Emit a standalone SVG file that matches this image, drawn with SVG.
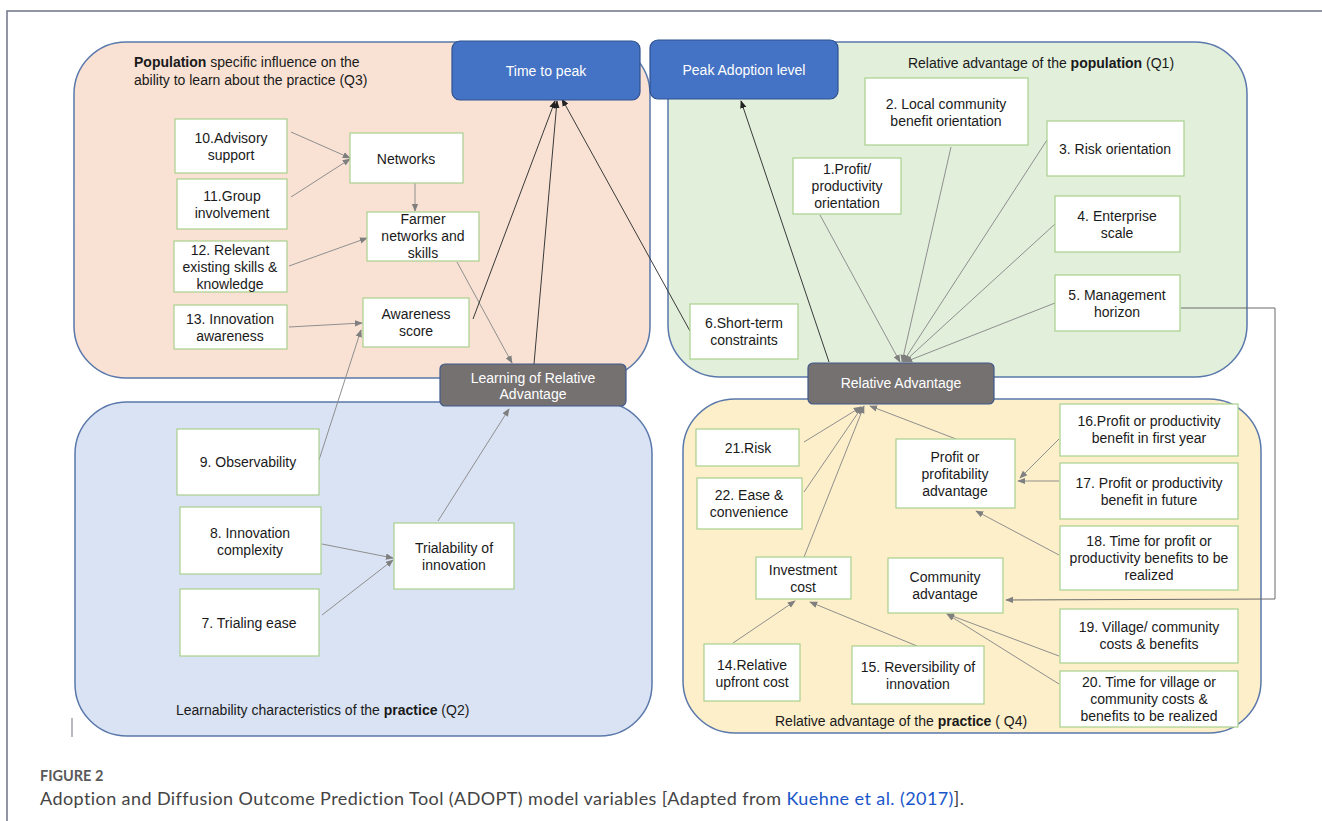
<svg xmlns="http://www.w3.org/2000/svg" width="1322" height="821" viewBox="0 0 1322 821">
<defs>
<style>
.q{stroke:#5a78ab;stroke-width:1.5}
.n{fill:#ffffff;stroke:#a9d08e;stroke-width:1.2}
.t{font-family:"Liberation Sans",Arial,sans-serif;font-size:14px;fill:#1a1a1a;text-anchor:middle}
.lbl{font-family:"Liberation Sans",Arial,sans-serif;font-size:14px;fill:#1a1a1a}
.blue{fill:#4472c4;stroke:#2f528f;stroke-width:1.2}
.gray{fill:#757171;stroke:#41598b;stroke-width:1.2}
.wt{font-family:"Liberation Sans",Arial,sans-serif;font-size:14px;fill:#ffffff;text-anchor:middle}
.c{fill:none;stroke:#8f8f8f;stroke-width:1;marker-end:url(#ag)}
.cd{fill:none;stroke:#3a3a3a;stroke-width:1;marker-end:url(#ad)}
.cap{font-family:Lato,"Open Sans",sans-serif;font-variant-ligatures:none}
</style>
<marker id="ag" viewBox="0 0 10 10" refX="9" refY="5" markerWidth="8" markerHeight="8" markerUnits="userSpaceOnUse" orient="auto">
<path d="M0,1 L10,5 L0,9 z" fill="#7f7f7f"/>
</marker>
<marker id="ad" viewBox="0 0 10 10" refX="9" refY="5" markerWidth="8" markerHeight="8" markerUnits="userSpaceOnUse" orient="auto">
<path d="M0,1 L10,5 L0,9 z" fill="#222"/>
</marker>
</defs>
<rect width="1322" height="821" fill="#ffffff"/>
<!-- frame -->
<path d="M7,821 V11 H1322" fill="none" stroke="#6e7387" stroke-width="1.5"/>
<line x1="72" y1="718" x2="72" y2="737" stroke="#6e7387" stroke-width="1"/>

<!-- quadrants -->
<g id="q3"><rect class="q" x="74" y="42" width="576" height="336" rx="52" fill="#f9e2d4"/></g>
<g id="q1"><rect class="q" x="668" y="42" width="579" height="335" rx="52" fill="#e2efda"/></g>
<g id="q2"><rect class="q" x="75" y="402" width="577" height="334" rx="52" fill="#dae3f3"/></g>
<g id="q4"><rect class="q" x="683" y="399" width="578" height="334" rx="52" fill="#fcefc9"/></g>

<text class="lbl" x="134" y="67"><tspan font-weight="bold">Population</tspan> specific influence on the</text>
<text class="lbl" x="134" y="85">ability to learn about the practice (Q3)</text>
<text class="lbl" x="1041" y="68" text-anchor="middle">Relative advantage of the <tspan font-weight="bold">population</tspan> (Q1)</text>
<text class="lbl" x="176" y="715">Learnability characteristics of the <tspan font-weight="bold">practice</tspan> (Q2)</text>
<text class="lbl" x="775" y="726">Relative advantage of the <tspan font-weight="bold">practice</tspan> ( Q4)</text>

<!-- connectors -->
<g id="connectors">
<line class="c" x1="291" y1="132" x2="350" y2="158"/>
<line class="c" x1="291" y1="197" x2="350" y2="159"/>
<line class="c" x1="415" y1="183" x2="415" y2="211"/>
<line class="c" x1="289" y1="266" x2="367" y2="238"/>
<line class="c" x1="289" y1="327" x2="362" y2="323"/>
<line class="c" x1="319" y1="460" x2="361" y2="330"/>
<line class="c" x1="457" y1="262" x2="512" y2="363"/>
<line class="cd" x1="473" y1="319" x2="555" y2="101"/>
<line class="cd" x1="534" y1="364" x2="557" y2="101"/>
<line class="cd" x1="690" y1="331" x2="562" y2="99"/>
<line class="c" x1="438" y1="521" x2="509" y2="409"/>
<line class="c" x1="322" y1="544" x2="393" y2="558"/>
<line class="c" x1="322" y1="615" x2="393" y2="560"/>
<line class="c" x1="820" y1="215" x2="900" y2="362"/>
<line class="c" x1="951" y1="147" x2="902" y2="362"/>
<line class="c" x1="1047" y1="140" x2="903" y2="362"/>
<line class="c" x1="1055" y1="224" x2="904" y2="362"/>
<line class="c" x1="1055" y1="303" x2="905" y2="362"/>
<line class="cd" x1="829" y1="362" x2="741" y2="101"/>
<polyline class="c" style="stroke:#6a6a6a" points="1181,308 1275,308 1275,599 1006,600"/>
<line class="c" x1="804" y1="442" x2="861" y2="407"/>
<line class="c" x1="804" y1="492" x2="862" y2="407"/>
<line class="c" x1="804" y1="557" x2="864" y2="406"/>
<line class="c" x1="956" y1="439" x2="870" y2="406"/>
<line class="c" x1="733" y1="643" x2="795" y2="601"/>
<line class="c" x1="917" y1="646" x2="810" y2="602"/>
<line class="c" x1="1059" y1="439" x2="1020" y2="478"/>
<line class="c" x1="1059" y1="481" x2="1018" y2="481"/>
<line class="c" x1="1059" y1="555" x2="976" y2="511"/>
<line class="c" x1="1059" y1="656" x2="947" y2="614"/>
<line class="c" x1="1059" y1="684" x2="947" y2="614"/>
</g>

<!-- top outcome boxes -->
<g id="time-to-peak"><rect class="blue" x="452" y="41" width="188" height="59" rx="8"/><text class="wt" x="546" y="76">Time to peak</text></g>
<g id="peak-adoption"><rect class="blue" x="650" y="40" width="188" height="59" rx="8"/><text class="wt" x="744" y="75">Peak Adoption level</text></g>
<g id="learning-ra"><rect class="gray" x="440" y="364" width="186" height="42" rx="5"/><text class="wt" x="533" y="383">Learning of Relative</text><text class="wt" x="533" y="399">Advantage</text></g>
<g id="relative-advantage"><rect class="gray" x="808" y="363" width="186" height="41" rx="5"/><text class="wt" x="901" y="388">Relative Advantage</text></g>

<!-- Q3 nodes -->
<g id="n10"><rect class="n" x="175" y="119" width="112" height="54"/><text class="t" x="231" y="143">10.Advisory</text><text class="t" x="231" y="160">support</text></g>
<g id="n11"><rect class="n" x="177" y="179" width="110" height="50"/><text class="t" x="232" y="201">11.Group</text><text class="t" x="232" y="218">involvement</text></g>
<g id="n12"><rect class="n" x="174" y="241" width="113" height="51"/><text class="t" x="230" y="255">12. Relevant</text><text class="t" x="230" y="272">existing skills &amp;</text><text class="t" x="230" y="289">knowledge</text></g>
<g id="n13"><rect class="n" x="174" y="305" width="113" height="44"/><text class="t" x="230" y="324">13. Innovation</text><text class="t" x="230" y="341">awareness</text></g>
<g id="networks"><rect class="n" x="350" y="133" width="113" height="50"/><text class="t" x="406" y="164">Networks</text></g>
<g id="farmer"><rect class="n" x="367" y="212" width="112" height="49"/><text class="t" x="423" y="224">Farmer</text><text class="t" x="423" y="241">networks and</text><text class="t" x="423" y="258">skills</text></g>
<g id="awareness"><rect class="n" x="363" y="298" width="106" height="49"/><text class="t" x="416" y="319">Awareness</text><text class="t" x="416" y="336">score</text></g>

<!-- Q1 nodes -->
<g id="n2"><rect class="n" x="865" y="78" width="163" height="67"/><text class="t" x="946" y="109">2. Local community</text><text class="t" x="946" y="126">benefit orientation</text></g>
<g id="n1"><rect class="n" x="793" y="158" width="108" height="56"/><text class="t" x="847" y="174">1.Profit/</text><text class="t" x="847" y="191">productivity</text><text class="t" x="847" y="208">orientation</text></g>
<g id="n3"><rect class="n" x="1047" y="121" width="137" height="55"/><text class="t" x="1115" y="154">3. Risk orientation</text></g>
<g id="n4"><rect class="n" x="1055" y="196" width="125" height="56"/><text class="t" x="1117" y="221">4. Enterprise</text><text class="t" x="1117" y="238">scale</text></g>
<g id="n5"><rect class="n" x="1055" y="275" width="125" height="56"/><text class="t" x="1117" y="300">5. Management</text><text class="t" x="1117" y="317">horizon</text></g>
<g id="n6"><rect class="n" x="690" y="304" width="108" height="55"/><text class="t" x="744" y="328">6.Short-term</text><text class="t" x="744" y="345">constraints</text></g>

<!-- Q2 nodes -->
<g id="n9"><rect class="n" x="177" y="429" width="142" height="66"/><text class="t" x="248" y="467">9. Observability</text></g>
<g id="n8"><rect class="n" x="180" y="507" width="141" height="67"/><text class="t" x="250" y="538">8. Innovation</text><text class="t" x="250" y="555">complexity</text></g>
<g id="n7"><rect class="n" x="180" y="589" width="139" height="67"/><text class="t" x="249" y="628">7. Trialing ease</text></g>
<g id="trialability"><rect class="n" x="394" y="523" width="120" height="66"/><text class="t" x="454" y="553">Trialability of</text><text class="t" x="454" y="570">innovation</text></g>

<!-- Q4 nodes -->
<g id="n21"><rect class="n" x="696" y="429" width="103" height="37"/><text class="t" x="748" y="453">21.Risk</text></g>
<g id="n22"><rect class="n" x="697" y="478" width="105" height="51"/><text class="t" x="749" y="500">22. Ease &amp;</text><text class="t" x="749" y="517">convenience</text></g>
<g id="investment"><rect class="n" x="756" y="557" width="95" height="42"/><text class="t" x="803" y="575">Investment</text><text class="t" x="803" y="592">cost</text></g>
<g id="profit"><rect class="n" x="896" y="439" width="119" height="69"/><text class="t" x="955" y="462">Profit or</text><text class="t" x="955" y="479">profitability</text><text class="t" x="955" y="496">advantage</text></g>
<g id="community"><rect class="n" x="888" y="558" width="115" height="55"/><text class="t" x="945" y="582">Community</text><text class="t" x="945" y="599">advantage</text></g>
<g id="n14"><rect class="n" x="704" y="644" width="96" height="57"/><text class="t" x="752" y="670">14.Relative</text><text class="t" x="752" y="687">upfront cost</text></g>
<g id="n15"><rect class="n" x="852" y="646" width="132" height="58"/><text class="t" x="918" y="672">15. Reversibility of</text><text class="t" x="918" y="689">innovation</text></g>
<g id="n16"><rect class="n" x="1060" y="404" width="178" height="52"/><text class="t" x="1149" y="426">16.Profit or productivity</text><text class="t" x="1149" y="443">benefit in  first year</text></g>
<g id="n17"><rect class="n" x="1060" y="463" width="178" height="56"/><text class="t" x="1149" y="488">17. Profit or productivity</text><text class="t" x="1149" y="505">benefit in  future</text></g>
<g id="n18"><rect class="n" x="1060" y="526" width="178" height="64"/><text class="t" x="1149" y="546">18. Time for profit or</text><text class="t" x="1149" y="563">productivity benefits  to be</text><text class="t" x="1149" y="580">realized</text></g>
<g id="n19"><rect class="n" x="1060" y="609" width="178" height="54"/><text class="t" x="1149" y="632">19. Village/ community</text><text class="t" x="1149" y="649">costs &amp; benefits</text></g>
<g id="n20"><rect class="n" x="1060" y="671" width="178" height="56"/><text class="t" x="1149" y="687">20. Time for village or</text><text class="t" x="1149" y="704">community costs &amp;</text><text class="t" x="1149" y="721">benefits to be realized</text></g>

<!-- caption -->
<text class="cap" x="40" y="781" font-size="14.5" font-weight="bold" fill="#5a5a5a">FIGURE 2</text>
<text class="cap" x="40" y="805" font-size="18" fill="#444444" textLength="924" lengthAdjust="spacing">Adoption and Diffusion Outcome Prediction Tool (ADOPT) model variables [Adapted from <tspan fill="#1a56c9">Kuehne et al. (2017)</tspan>].</text>
</svg>
